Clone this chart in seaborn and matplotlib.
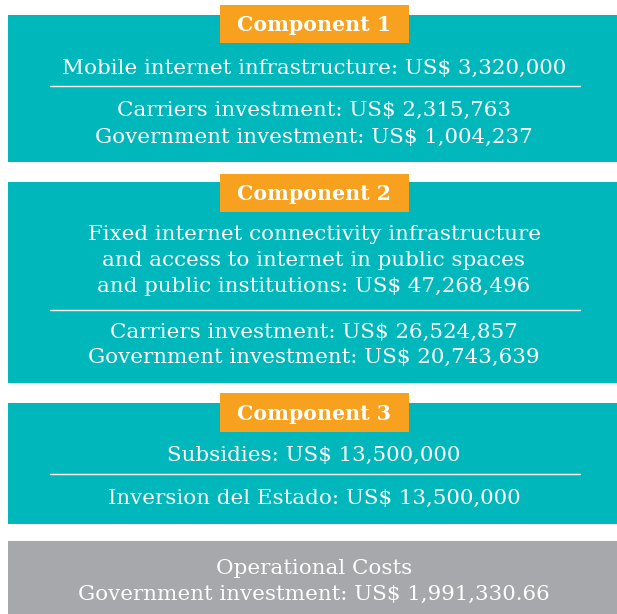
import matplotlib
matplotlib.use("Agg")
import matplotlib.pyplot as plt
import seaborn as sns
from matplotlib.patches import Rectangle

# ---- content ----
component_labels = ["Component 1", "Component 2", "Component 3"]
headline_texts = [
    ["Mobile internet infrastructure: US$ 3,320,000"],
    ["Fixed internet connectivity infrastructure",
     "and access to internet in public spaces",
     "and public institutions: US$ 47,268,496"],
    ["Subsidies: US$ 13,500,000"],
]
detail_texts = [
    ["Carriers investment: US$ 2,315,763",
     "Government investment: US$ 1,004,237"],
    ["Carriers investment: US$ 26,524,857",
     "Government investment: US$ 20,743,639"],
    ["Inversion del Estado: US$ 13,500,000"],
]
operational_texts = ["Operational Costs",
                     "Government investment: US$ 1,991,330.66"]

# ---- layout (pixel space) ----
W, H = 617, 614
box_top = [15, 182, 403]
box_bot = [162, 383, 524]
label_top = [5, 174, 393]
label_bot = [43, 212, 432]
head_y = [[68], [235, 261, 287], [455]]
rule_y = [86, 310, 474]
detail_y = [[110, 137], [332, 357], [498]]
gray_top = 541
op_y = [568, 594]

TEAL = "#00B8BC"
ORANGE = "#F7A11E"
GRAY = "#A7A8AB"
FONT = "DejaVu Serif"
FS = 15.4

sns.set_theme(style="white")
plt.rcParams["font.family"] = [FONT, "DejaVu Sans"]

fig = plt.figure(figsize=(W / 100, H / 100), dpi=100)
ax = fig.add_axes([0, 0, 1, 1])
ax.set_xlim(0, W)
ax.set_ylim(H, 0)
ax.axis("off")

cx = 314
for i in range(3):
    ax.add_patch(Rectangle((8, box_top[i]), W - 8, box_bot[i] - box_top[i],
                           color=TEAL, lw=0))
    ax.add_patch(Rectangle((220, label_top[i]), 189, label_bot[i] - label_top[i],
                           color=ORANGE, lw=0))
    ax.text(cx, (label_top[i] + label_bot[i]) / 2 + 1, component_labels[i],
            ha="center", va="center", color="white", fontsize=14.8,
            fontweight="bold", family=[FONT])
    for t, y in zip(headline_texts[i], head_y[i]):
        ax.text(cx, y, t, ha="center", va="center", color="white",
                fontsize=FS, family=[FONT], fontweight="light")
    ax.plot([50, 580], [rule_y[i], rule_y[i]], color="white", lw=1)
    for t, y in zip(detail_texts[i], detail_y[i]):
        ax.text(cx, y, t, ha="center", va="center", color="white",
                fontsize=FS, family=[FONT], fontweight="light")

ax.add_patch(Rectangle((8, gray_top), W - 8, H - gray_top, color=GRAY, lw=0))
for t, y in zip(operational_texts, op_y):
    ax.text(cx, y, t, ha="center", va="center", color="white",
            fontsize=FS, family=[FONT], fontweight="light")

fig.savefig("out.png", dpi=100, facecolor="white")
